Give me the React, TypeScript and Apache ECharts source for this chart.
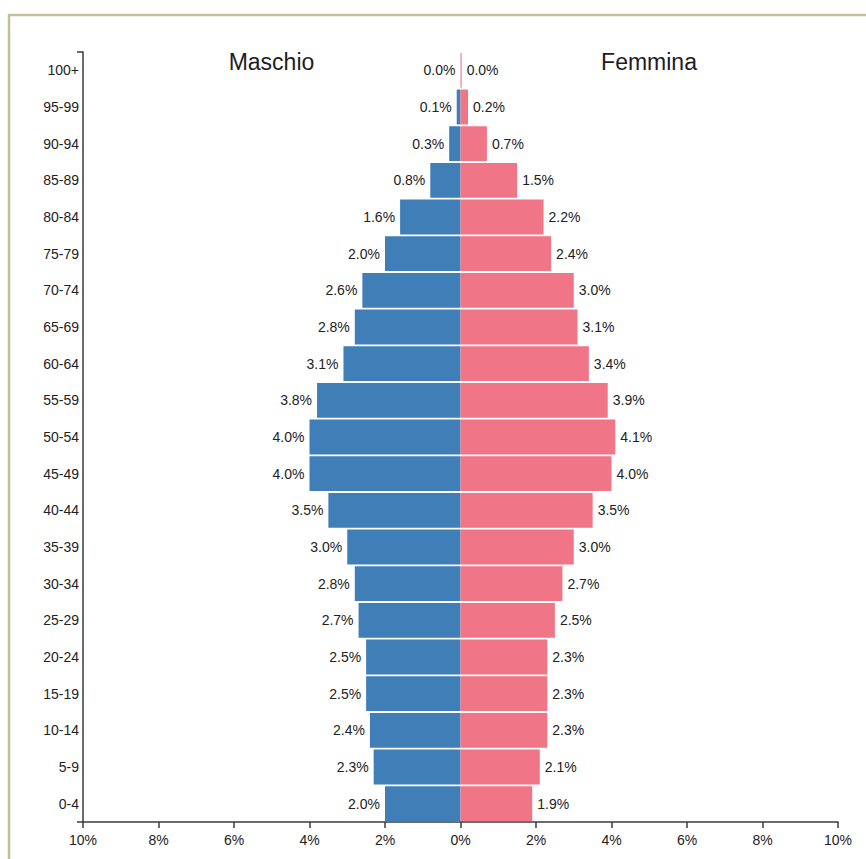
import React, { useEffect, useRef } from "react";
import * as echarts from "echarts";

const ageGroups = ["100+", "95-99", "90-94", "85-89", "80-84", "75-79", "70-74", "65-69", "60-64", "55-59", "50-54", "45-49", "40-44", "35-39", "30-34", "25-29", "20-24", "15-19", "10-14", "5-9", "0-4"];
const maleValues = [0.0, 0.1, 0.3, 0.8, 1.6, 2.0, 2.6, 2.8, 3.1, 3.8, 4.0, 4.0, 3.5, 3.0, 2.8, 2.7, 2.5, 2.5, 2.4, 2.3, 2.0];
const femaleValues = [0.03, 0.2, 0.7, 1.5, 2.2, 2.4, 3.0, 3.1, 3.4, 3.9, 4.1, 4.0, 3.5, 3.0, 2.7, 2.5, 2.3, 2.3, 2.3, 2.1, 1.9];
const seriesNames = ["Maschio", "Femmina"];
const xTicks = { min: -10, max: 10, interval: 2 };

const FONT = "'Liberation Sans', Arial, Helvetica, sans-serif";
const TEXT = "#222";
const AXIS = "#3a3a44";

export default function App() {
  const ref = useRef<HTMLDivElement>(null);
  useEffect(() => {
    if (!ref.current) return;
    const chart = echarts.init(ref.current, undefined, { renderer: "svg" });
    const fmt = (p: any) => Math.abs(p.value).toFixed(1) + "%";
    chart.setOption({
      animation: false,
      backgroundColor: "#fff",
      textStyle: { fontFamily: FONT },
      grid: { left: 83, right: 28, top: 52, bottom: 37 },
      xAxis: {
        type: "value",
        min: xTicks.min,
        max: xTicks.max,
        interval: xTicks.interval,
        splitLine: { show: false },
        axisLine: { show: true, onZero: false, lineStyle: { color: AXIS, width: 1.5 } },
        axisTick: { show: true, length: 6, lineStyle: { color: AXIS, width: 1.5 } },
        axisLabel: {
          margin: 11,
          fontSize: 14,
          color: TEXT,
          fontFamily: FONT,
          formatter: (v: number) => Math.abs(v) + "%",
        },
      },
      yAxis: {
        type: "category",
        data: ageGroups,
        inverse: true,
        axisLine: { show: true, onZero: false, lineStyle: { color: AXIS, width: 1.5 } },
        axisTick: { show: false },
        axisLabel: { margin: 4, fontSize: 14, color: TEXT, fontFamily: FONT },
      },
      series: [
        {
          name: seriesNames[0],
          type: "bar",
          data: maleValues.map((v) => -v),
          barGap: "-100%",
          barCategoryGap: "5%",
          itemStyle: { color: "#3f7eb6" },
          label: {
            show: true,
            position: "left",
            distance: 5,
            fontSize: 14,
            color: TEXT,
            fontFamily: FONT,
            formatter: fmt,
          },
        },
        {
          name: seriesNames[1],
          type: "bar",
          data: femaleValues,
          barGap: "-100%",
          barCategoryGap: "5%",
          itemStyle: { color: "#ef7587" },
          label: {
            show: true,
            position: "right",
            distance: 5,
            fontSize: 14,
            color: TEXT,
            fontFamily: FONT,
            formatter: fmt,
          },
        },
      ],
      graphic: [
        {
          type: "rect",
          shape: { x: 9, y: 15, width: 1000, height: 1000 },
          style: { fill: "none", stroke: "#c3bf9c", lineWidth: 2.5 },
          silent: true,
        },
        {
          type: "line",
          shape: { x1: 77, y1: 52, x2: 83, y2: 52 },
          style: { stroke: AXIS, lineWidth: 1.5 },
        },
        {
          type: "line",
          shape: { x1: 77, y1: 822, x2: 83, y2: 822 },
          style: { stroke: AXIS, lineWidth: 1.5 },
        },
        {
          type: "text",
          x: 271.5,
          y: 62,
          style: { text: seriesNames[0], fontSize: 23, fill: "#1c1c28", fontFamily: FONT, align: "center", verticalAlign: "middle" },
        },
        {
          type: "text",
          x: 649,
          y: 62,
          style: { text: seriesNames[1], fontSize: 23, fill: "#1c1c28", fontFamily: FONT, align: "center", verticalAlign: "middle" },
        },
      ],
    });
    return () => chart.dispose();
  }, []);
  return (
    <div
      ref={ref}
      style={{ position: "fixed", left: 0, top: 0, width: 866, height: 859 }}
    />
  );
}
